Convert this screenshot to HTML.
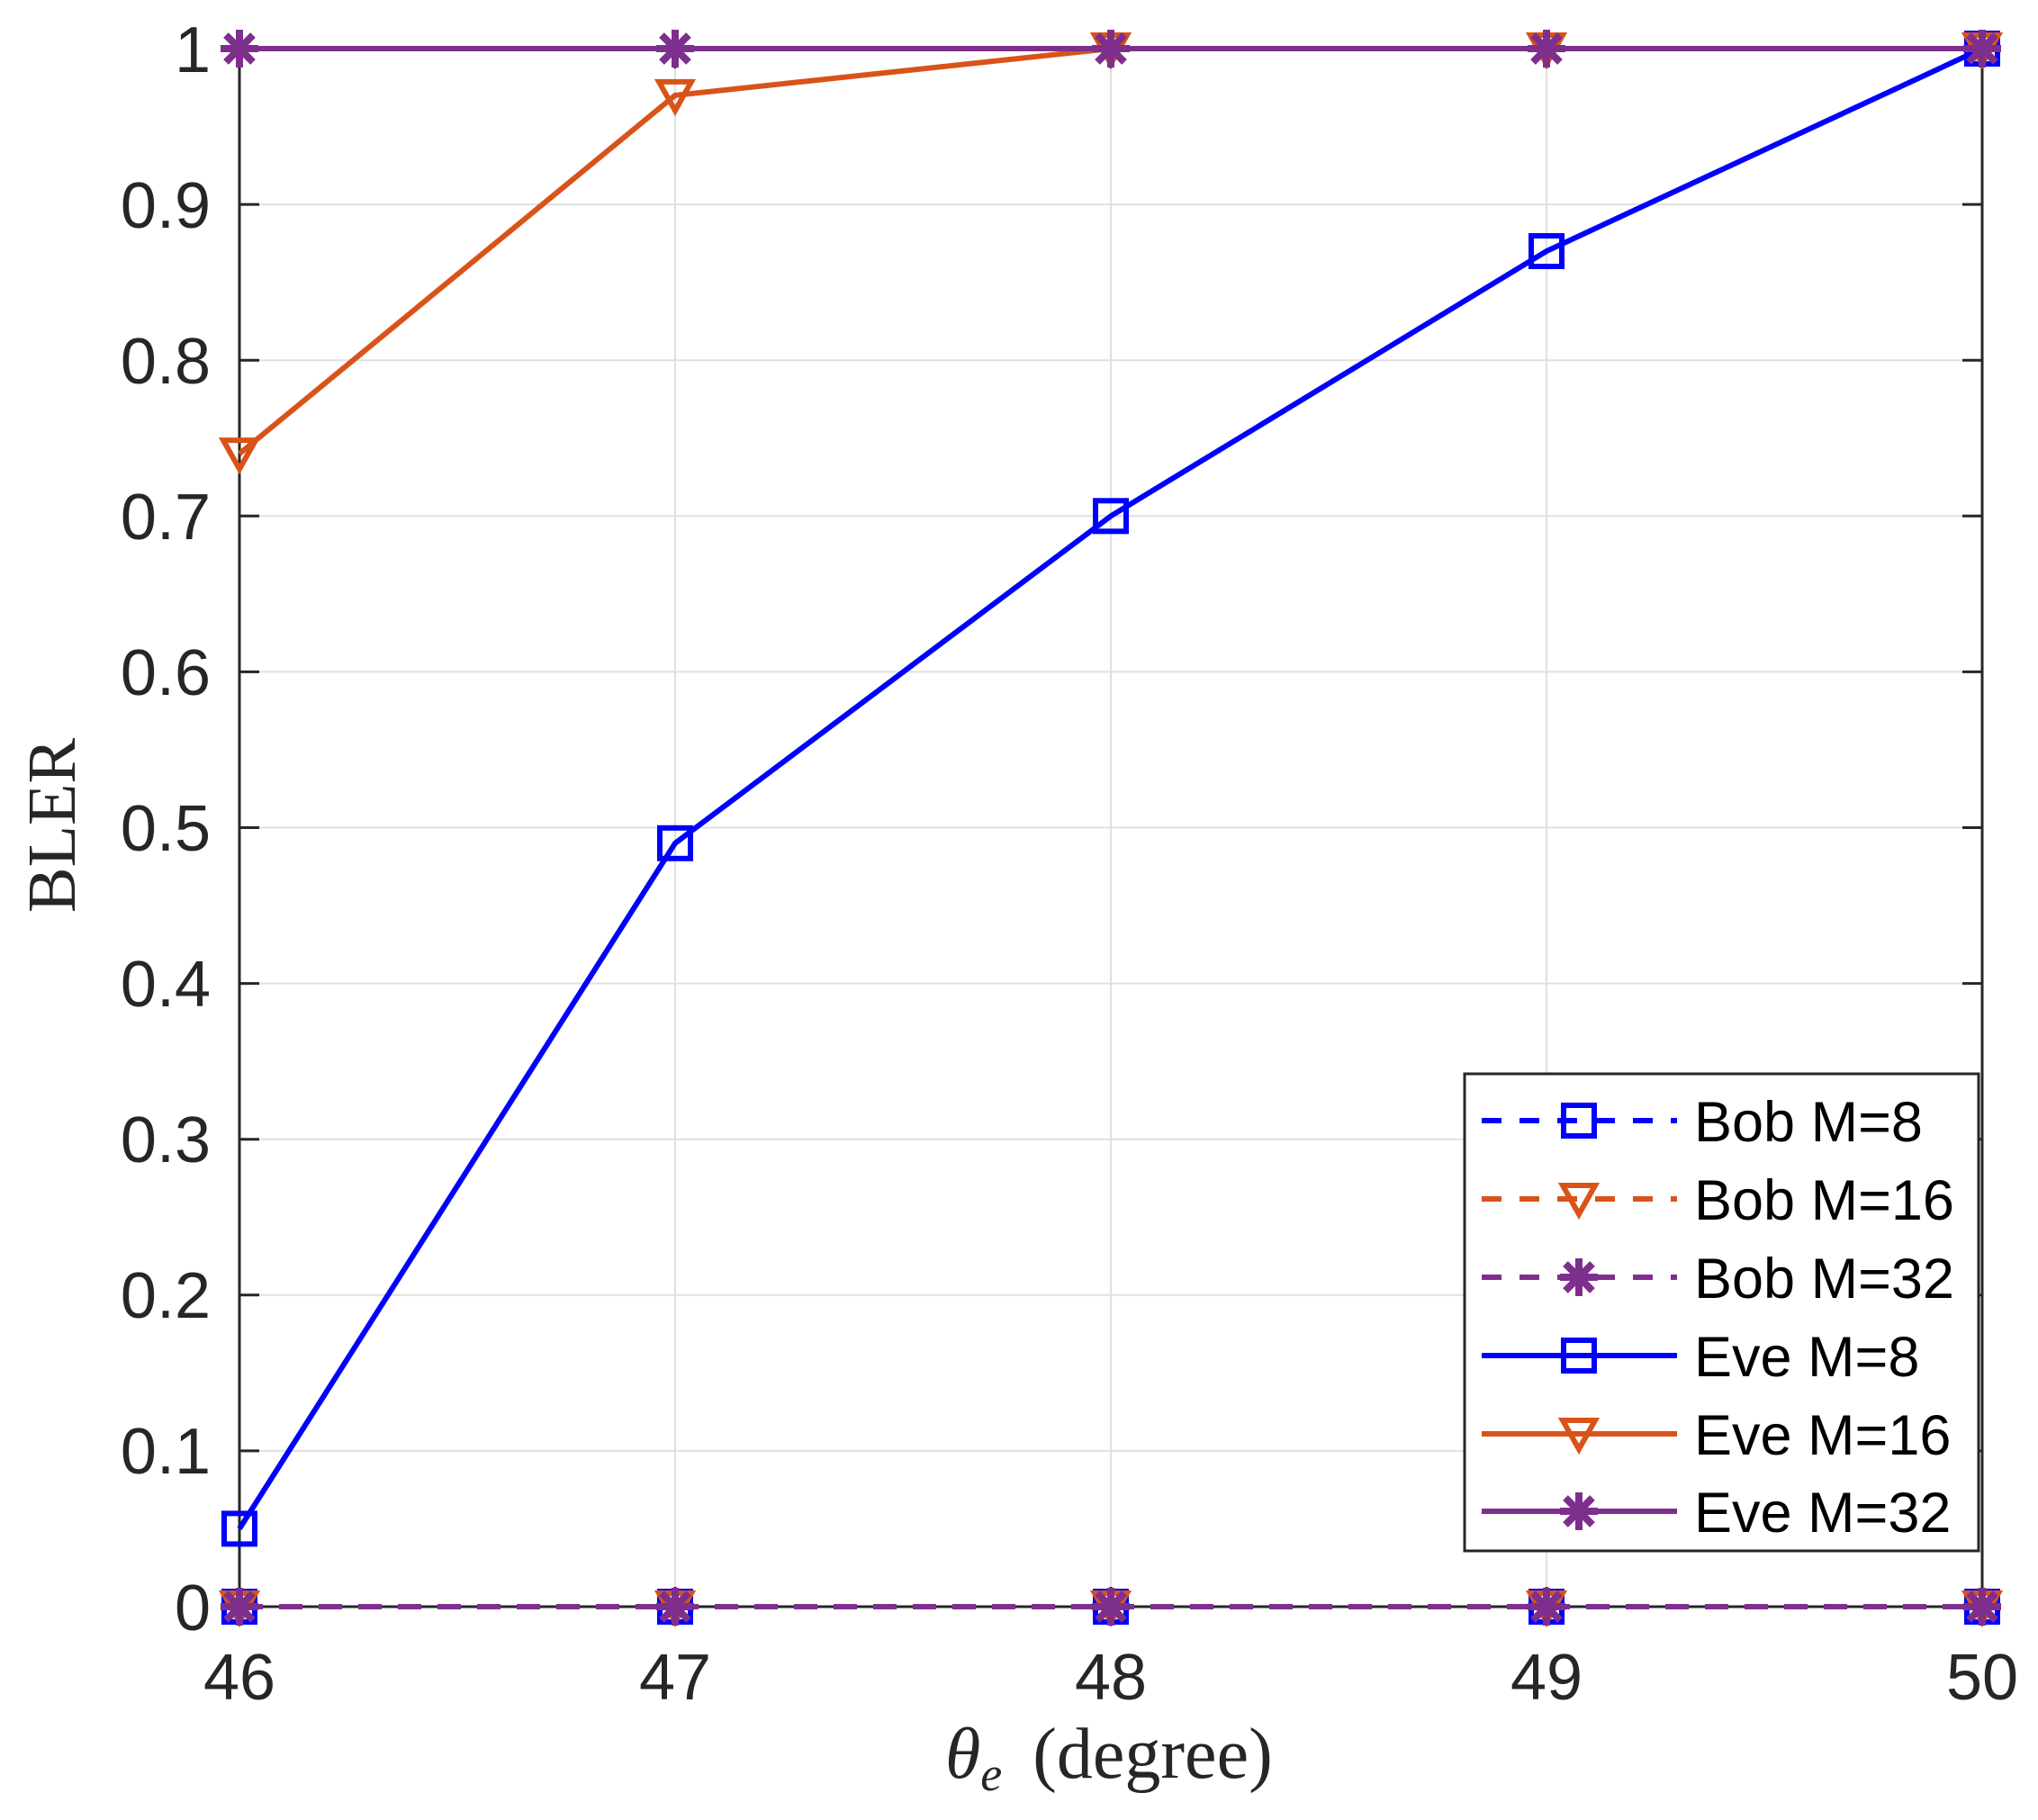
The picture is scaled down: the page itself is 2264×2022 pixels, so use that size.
<!DOCTYPE html>
<html><head><meta charset="utf-8"><style>html,body{margin:0;padding:0;background:#fff}</style></head>
<body>
<svg width="2264" height="2017" viewBox="0 0 2264 2017" xmlns="http://www.w3.org/2000/svg">
<defs>
<g id="sq"><rect x="-17" y="-17" width="34" height="34" fill="none" stroke-width="6"/></g>
<g id="tri"><path d="M-18,-15 L18,-15 L0,17 Z" fill="none" stroke-width="6" stroke-linejoin="miter"/></g>
<g id="ast"><path d="M0,-21 V21 M-21,0 H21 M-15,-15 L15,15 M-15,15 L15,-15" stroke-width="8" fill="none"/></g>
</defs>
<rect width="2264" height="2017" fill="#fff"/>
<g stroke="#e0e0e0" stroke-width="2">
<line x1="750" y1="54" x2="750" y2="1785"/><line x1="1234" y1="54" x2="1234" y2="1785"/><line x1="1718" y1="54" x2="1718" y2="1785"/>
<line x1="266" y1="227.1" x2="2202" y2="227.1"/><line x1="266" y1="400.2" x2="2202" y2="400.2"/><line x1="266" y1="573.3" x2="2202" y2="573.3"/>
<line x1="266" y1="746.4" x2="2202" y2="746.4"/><line x1="266" y1="919.5" x2="2202" y2="919.5"/><line x1="266" y1="1092.6" x2="2202" y2="1092.6"/>
<line x1="266" y1="1265.7" x2="2202" y2="1265.7"/><line x1="266" y1="1438.8" x2="2202" y2="1438.8"/><line x1="266" y1="1611.9" x2="2202" y2="1611.9"/>
</g>
<g stroke="#262626" stroke-width="3" fill="none">
<rect x="266" y="54" width="1936" height="1731"/>
<path d="M266,227.1h22M266,400.2h22M266,573.3h22M266,746.4h22M266,919.5h22M266,1092.6h22M266,1265.7h22M266,1438.8h22M266,1611.9h22
M2202,227.1h-22M2202,400.2h-22M2202,573.3h-22M2202,746.4h-22M2202,919.5h-22M2202,1092.6h-22M2202,1265.7h-22M2202,1438.8h-22M2202,1611.9h-22
M750,1785v-22M1234,1785v-22M1718,1785v-22M750,54v22M1234,54v22M1718,54v22"/>
</g>
<g font-family="'Liberation Sans',Arial,sans-serif" font-size="72" fill="#262626">
<g text-anchor="end">
<text x="234" y="80">1</text><text x="234" y="253">0.9</text><text x="234" y="426">0.8</text><text x="234" y="599">0.7</text>
<text x="234" y="772">0.6</text><text x="234" y="945">0.5</text><text x="234" y="1118">0.4</text><text x="234" y="1291">0.3</text>
<text x="234" y="1464">0.2</text><text x="234" y="1637">0.1</text><text x="234" y="1811">0</text>
</g>
<g text-anchor="middle">
<text x="266" y="1888">46</text><text x="750" y="1888">47</text><text x="1234" y="1888">48</text><text x="1718" y="1888">49</text><text x="2202" y="1888">50</text>
</g>
</g>
<text transform="translate(83,917) rotate(-90)" text-anchor="middle" font-family="'Liberation Serif',serif" font-size="76" fill="#262626">BLER</text>
<text x="1050" y="1975" font-family="'Liberation Serif',serif" font-size="80" fill="#262626"><tspan font-style="italic">θ</tspan><tspan font-style="italic" font-size="54" dy="14">e</tspan><tspan dy="-14" dx="34">(degree)</tspan></text>
<g stroke-dasharray="26,18">
<polyline points="266,1785 2202,1785" stroke="#0000ff" stroke-width="6" fill="none"/>
<polyline points="266,1785 2202,1785" stroke="#d95319" stroke-width="6" fill="none"/>
<polyline points="266,1785 2202,1785" stroke="#7e2f8e" stroke-width="6" fill="none"/>
</g>
<g stroke="#0000ff"><use href="#sq" x="266" y="1785"/><use href="#sq" x="750" y="1785"/><use href="#sq" x="1234" y="1785"/><use href="#sq" x="1718" y="1785"/><use href="#sq" x="2202" y="1785"/></g>
<g stroke="#d95319"><use href="#tri" x="266" y="1785"/><use href="#tri" x="750" y="1785"/><use href="#tri" x="1234" y="1785"/><use href="#tri" x="1718" y="1785"/><use href="#tri" x="2202" y="1785"/></g>
<g stroke="#7e2f8e"><use href="#ast" x="266" y="1785"/><use href="#ast" x="750" y="1785"/><use href="#ast" x="1234" y="1785"/><use href="#ast" x="1718" y="1785"/><use href="#ast" x="2202" y="1785"/></g>
<polyline points="266,1698.4 750,936.8 1234,573.3 1718,279 2202,54" stroke="#0000ff" stroke-width="6" fill="none"/>
<g stroke="#0000ff"><use href="#sq" x="266" y="1698.4"/><use href="#sq" x="750" y="936.8"/><use href="#sq" x="1234" y="573.3"/><use href="#sq" x="1718" y="279"/><use href="#sq" x="2202" y="54"/></g>
<polyline points="266,504.1 750,105.9 1234,54 1718,54 2202,54" stroke="#d95319" stroke-width="6" fill="none"/>
<g stroke="#d95319"><use href="#tri" x="266" y="504.1"/><use href="#tri" x="750" y="105.9"/><use href="#tri" x="1234" y="54"/><use href="#tri" x="1718" y="54"/><use href="#tri" x="2202" y="54"/></g>
<polyline points="266,54 2202,54" stroke="#7e2f8e" stroke-width="6" fill="none"/>
<g stroke="#7e2f8e"><use href="#ast" x="266" y="54"/><use href="#ast" x="750" y="54"/><use href="#ast" x="1234" y="54"/><use href="#ast" x="1718" y="54"/><use href="#ast" x="2202" y="54"/></g>
<rect x="1627" y="1193" width="571" height="530" fill="#fff" stroke="#262626" stroke-width="3"/>
<g stroke-width="6" fill="none">
<line x1="1646" y1="1245" x2="1863" y2="1245" stroke="#0000ff" stroke-dasharray="22,20"/>
<line x1="1646" y1="1332" x2="1863" y2="1332" stroke="#d95319" stroke-dasharray="22,20"/>
<line x1="1646" y1="1419" x2="1863" y2="1419" stroke="#7e2f8e" stroke-dasharray="22,20"/>
<line x1="1646" y1="1506" x2="1863" y2="1506" stroke="#0000ff"/>
<line x1="1646" y1="1593" x2="1863" y2="1593" stroke="#d95319"/>
<line x1="1646" y1="1679" x2="1863" y2="1679" stroke="#7e2f8e"/>
</g>
<use href="#sq" x="1754" y="1245" stroke="#0000ff"/>
<use href="#tri" x="1754" y="1332" stroke="#d95319"/>
<use href="#ast" x="1754" y="1419" stroke="#7e2f8e"/>
<use href="#sq" x="1754" y="1506" stroke="#0000ff"/>
<use href="#tri" x="1754" y="1593" stroke="#d95319"/>
<use href="#ast" x="1754" y="1679" stroke="#7e2f8e"/>
<g font-family="'Liberation Sans',Arial,sans-serif" font-size="63" fill="#000">
<text x="1882" y="1268">Bob M=8</text>
<text x="1882" y="1355">Bob M=16</text>
<text x="1882" y="1442">Bob M=32</text>
<text x="1882" y="1529">Eve M=8</text>
<text x="1882" y="1616">Eve M=16</text>
<text x="1882" y="1702">Eve M=32</text>
</g>
</svg>
</body></html>
